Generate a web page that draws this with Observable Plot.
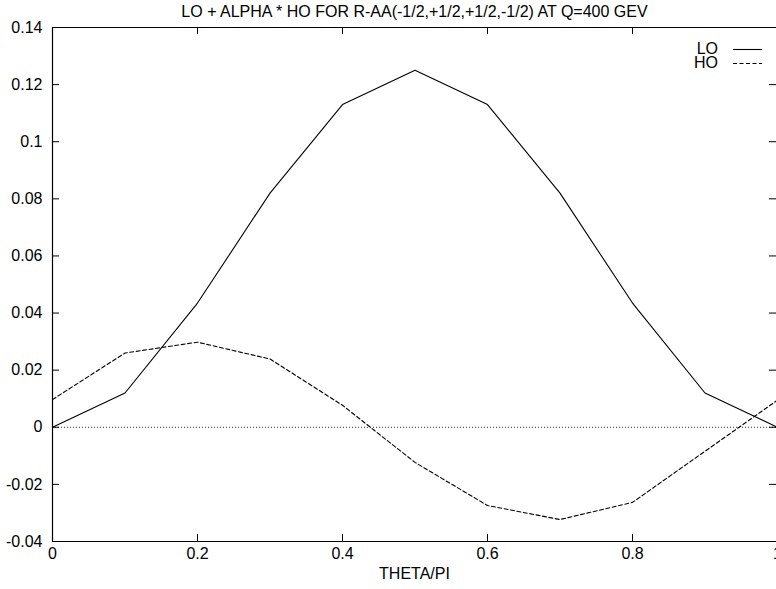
<!DOCTYPE html>
<html>
<head>
<meta charset="utf-8">
<script src="https://cdn.jsdelivr.net/npm/d3@7"></script>
<script src="https://cdn.jsdelivr.net/npm/@observablehq/plot@0.6"></script>
<style>
  body { margin: 0; background: #fff; font-family: "Liberation Sans", Arial, Helvetica, sans-serif; }
  #wrap { position: relative; width: 776px; height: 589px; overflow: hidden; background: #fff; }
  .title { margin-left: 52px; width: 725px; text-align: center; font-size: 16px; line-height: 16px; padding-top: 4px; height: 16px; white-space: nowrap; }
  .xlabel { margin-left: 52px; width: 725px; text-align: center; font-size: 16px; line-height: 16px; }
  .legend { position: absolute; left: 0; top: 0; font-size: 16px; }
  .row { position: absolute; height: 16px; line-height: 16px; }
  .row span { position: absolute; right: 0; width: 40px; text-align: right; }
  .row svg { position: absolute; }
  #chart svg { overflow: visible; }
</style>
</head>
<body>
<div id="wrap">
  <div class="title" id="title"></div>
  <div id="chart"></div>
  <div class="xlabel" id="xlabel"></div>
  <div class="legend" id="legend"></div>
</div>
<script>
// ---- data ----
const title = "LO + ALPHA * HO FOR R-AA(-1/2,+1/2,+1/2,-1/2) AT Q=400 GEV";
const xLabel = "THETA/PI";
const theta = [0, 0.1, 0.2, 0.3, 0.4, 0.5, 0.6, 0.7, 0.8, 0.9, 1.0];
const lo = [0, 0.012, 0.0435, 0.082, 0.113, 0.125, 0.113, 0.082, 0.0435, 0.012, 0];
const ho = [0.0097, 0.026, 0.0298, 0.0239, 0.0077, -0.0123, -0.0274, -0.0323, -0.0263, -0.0084, 0.0095];
const seriesNames = ["LO", "HO"];
const xTicks = [0, 0.2, 0.4, 0.6, 0.8, 1];
const yTicks = [-0.04, -0.02, 0, 0.02, 0.04, 0.06, 0.08, 0.1, 0.12, 0.14];
const xDomain = [0, 1];
const yDomain = [-0.04, 0.14];

const rows = theta.map((t, i) => ({theta: t, lo: lo[i], ho: ho[i]}));

document.getElementById("title").textContent = title;
document.getElementById("xlabel").textContent = xLabel;

const W = 776, H = 546;
const mL = 52, mT = 7, mB = 25, mR = 0;
const plotW = W - mL - mR, plotH = H - mT - mB;
const tickLen = 7;
const fmt = d => String(+d.toFixed(2));

const chart = Plot.plot({
  width: W,
  height: H,
  marginLeft: mL,
  marginTop: mT,
  marginBottom: mB,
  marginRight: mR,
  style: {fontFamily: "'Liberation Sans', Arial, sans-serif", fontSize: "16px", background: "#fff", color: "#000"},
  x: {domain: xDomain, range: [mL, mL + 725]},
  y: {domain: yDomain},
  marks: [
    Plot.ruleY([0], {stroke: "#333", strokeWidth: 1, strokeDasharray: "1,2"}),
    // border (right edge lies just outside the canvas, as in the reference)
    Plot.ruleY(yDomain, {stroke: "#000", strokeWidth: 1.2}),
    Plot.ruleX(xDomain, {stroke: "#000", strokeWidth: 1.2}),
    // inward ticks on all four sides
    Plot.tickY(yTicks, {stroke: "#000", insetRight: plotW - tickLen}),
    Plot.tickY(yTicks, {stroke: "#000", insetLeft: plotW - tickLen}),
    Plot.tickX(xTicks, {stroke: "#000", insetTop: plotH - tickLen}),
    Plot.tickX(xTicks, {stroke: "#000", insetBottom: plotH - tickLen}),
    Plot.axisY({ticks: yTicks, tickSize: 0, tickPadding: 10, tickFormat: fmt, label: null, fontSize: 16}),
    Plot.axisX({ticks: xTicks, tickSize: 0, tickPadding: 6, tickFormat: fmt, label: null, fontSize: 16}),
    Plot.line(rows, {x: "theta", y: "lo", stroke: "#000", strokeWidth: 1.1}),
    Plot.line(rows, {x: "theta", y: "ho", stroke: "#000", strokeWidth: 1.1, strokeDasharray: "4,2.5"})
  ]
});
document.getElementById("chart").appendChild(chart);

// legend (gnuplot-style key, top right)
const legend = document.getElementById("legend");
const dashes = [null, "4,2.5"];
seriesNames.forEach((name, i) => {
  const row = document.createElement("div");
  row.className = "row";
  row.style.left = "678px";
  row.style.top = (41 + i * 14) + "px";
  row.style.width = "90px";
  const span = document.createElement("span");
  span.textContent = name;
  span.style.right = "50px";
  row.appendChild(span);
  const svgNS = "http://www.w3.org/2000/svg";
  const s = document.createElementNS(svgNS, "svg");
  s.setAttribute("width", "30");
  s.setAttribute("height", "16");
  s.style.left = "55px";
  s.style.top = "0px";
  const ln = document.createElementNS(svgNS, "line");
  ln.setAttribute("x1", "0"); ln.setAttribute("x2", "29");
  ln.setAttribute("y1", "8.5"); ln.setAttribute("y2", "8.5");
  ln.setAttribute("stroke", "#000");
  ln.setAttribute("stroke-width", "1.1");
  if (dashes[i]) ln.setAttribute("stroke-dasharray", dashes[i]);
  s.appendChild(ln);
  row.appendChild(s);
  legend.appendChild(row);
});
</script>
</body>
</html>
